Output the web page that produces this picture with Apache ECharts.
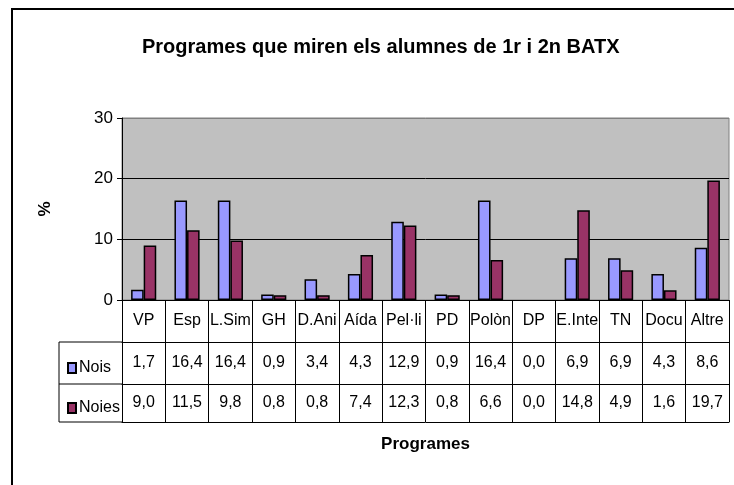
<!DOCTYPE html>
<html>
<head>
<meta charset="utf-8">
<script src="https://cdn.jsdelivr.net/npm/echarts@6/dist/echarts.min.js"></script>
<style>
  html, body { margin: 0; padding: 0; background: #fff; }
  #chart { width: 734px; height: 485px; }
</style>
</head>
<body>
<div id="chart"></div>
<script>
// dades del grafic
var categories = ['VP', 'Esp', 'L.Sim', 'GH', 'D.Ani', 'Aída', 'Pel·li', 'PD', 'Polòn', 'DP', 'E.Inte', 'TN', 'Docu', 'Altre'];
var nois = [1.7, 16.4, 16.4, 0.9, 3.4, 4.3, 12.9, 0.9, 16.4, 0.0, 6.9, 6.9, 4.3, 8.6];
var noies = [9.0, 11.5, 9.8, 0.8, 0.8, 7.4, 12.3, 0.8, 6.6, 0.0, 14.8, 4.9, 1.6, 19.7];
var seriesNames = ['Nois', 'Noies'];
var yTicks = [0, 10, 20, 30];

var FONT = "'Liberation Sans Narrow', 'Arial Narrow', 'Liberation Sans', Arial, sans-serif";
var FS = 16;

function fmt(v) {
  return v.toFixed(1).replace('.', ',');
}

// les barres a zero no es dibuixen (sense vora)
function barData(values) {
  return values.map(function (v) {
    return v === 0 ? { value: v, itemStyle: { borderWidth: 0 } } : v;
  });
}

var chart = echarts.init(document.getElementById('chart'));

var tableAxis = function (offset, values) {
  return {
    type: 'category',
    gridIndex: 0,
    position: 'bottom',
    offset: offset,
    data: categories,
    axisLine: { show: true, lineStyle: { color: '#000', width: 1 } },
    axisTick: { show: false },
    axisLabel: {
      show: !!values,
      interval: 0,
      margin: 0,
      color: '#000',
      fontFamily: FONT,
      fontSize: FS,
      lineHeight: offset === 84 ? 38 : 42,
      verticalAlign: 'top',
      formatter: function (v, i) { return values ? fmt(values[i]) : ''; }
    }
  };
};

var option = {
  animation: false,
  backgroundColor: '#fff',
  title: {
    text: 'Programes que miren els alumnes de 1r i 2n BATX',
    left: 137,
    top: 32,
    textStyle: { fontFamily: FONT, fontWeight: 'bold', fontSize: 20, color: '#000' }
  },
  legend: {
    orient: 'vertical',
    left: 62,
    top: 353,
    itemGap: 20,
    itemWidth: 8,
    itemHeight: 10,
    icon: 'rect',
    textStyle: { fontFamily: FONT, fontSize: FS, color: '#000', lineHeight: 20, padding: [0, 0, 0, -2] },
    data: seriesNames
  },
  grid: {
    left: 122,
    right: 5,
    top: 118,
    bottom: 185,
    show: true,
    backgroundColor: '#C0C0C0',
    borderColor: '#808080',
    borderWidth: 1
  },
  xAxis: [
    {
      type: 'category',
      data: categories,
      position: 'bottom',
      axisLine: { show: true, lineStyle: { color: '#000', width: 1 } },
      axisTick: { show: true, interval: 0, length: 122, lineStyle: { color: '#000' } },
      axisLabel: {
        interval: 0,
        margin: 0,
        color: '#000',
        fontFamily: FONT,
        fontSize: FS,
        lineHeight: 42,
        verticalAlign: 'top'
      }
    },
    tableAxis(42, nois),
    tableAxis(84, noies),
    Object.assign(tableAxis(122, null), {
      name: 'Programes',
      nameLocation: 'middle',
      nameGap: 14,
      nameTextStyle: { fontFamily: FONT, fontWeight: 'bold', fontSize: 17, color: '#000' }
    })
  ],
  yAxis: {
    type: 'value',
    min: yTicks[0],
    max: yTicks[yTicks.length - 1],
    interval: 10,
    name: '%',
    nameLocation: 'middle',
    nameRotate: 90,
    nameGap: 68,
    nameTextStyle: { fontFamily: FONT, fontWeight: 'bold', fontSize: 17, color: '#000' },
    axisLine: { show: true, lineStyle: { color: '#000', width: 1 } },
    axisTick: { show: true, inside: false, length: 5, lineStyle: { color: '#000' } },
    axisLabel: { color: '#000', fontFamily: FONT, fontSize: 17, margin: 9 },
    splitLine: { show: true, lineStyle: { color: ['#000', '#000', '#000', '#808080'], width: 1 } }
  },
  series: [
    {
      name: seriesNames[0],
      type: 'bar',
      xAxisIndex: 0,
      data: barData(nois),
      barGap: '0%',
      barCategoryGap: '42%',
      itemStyle: { color: '#9999FF', borderColor: '#000', borderWidth: 1.5 }
    },
    {
      name: seriesNames[1],
      type: 'bar',
      xAxisIndex: 0,
      data: barData(noies),
      barGap: '0%',
      barCategoryGap: '42%',
      itemStyle: { color: '#993366', borderColor: '#000', borderWidth: 1.5 }
    }
  ],
  graphic: [
    // marc exterior del grafic
    { type: 'rect', shape: { x: 12, y: 9, width: 800, height: 600 }, style: { fill: null, stroke: '#000', lineWidth: 2 }, z: 100 },
    // columna de la llegenda de la taula
    { type: 'line', shape: { x1: 59, y1: 342, x2: 122, y2: 342 }, style: { stroke: '#000', lineWidth: 1 } },
    { type: 'line', shape: { x1: 59, y1: 384, x2: 122, y2: 384 }, style: { stroke: '#000', lineWidth: 1 } },
    { type: 'line', shape: { x1: 59, y1: 422, x2: 122, y2: 422 }, style: { stroke: '#000', lineWidth: 1 } },
    { type: 'line', shape: { x1: 59, y1: 342, x2: 59, y2: 422 }, style: { stroke: '#000', lineWidth: 1 } }
  ]
};

chart.setOption(option);
</script>
</body>
</html>
